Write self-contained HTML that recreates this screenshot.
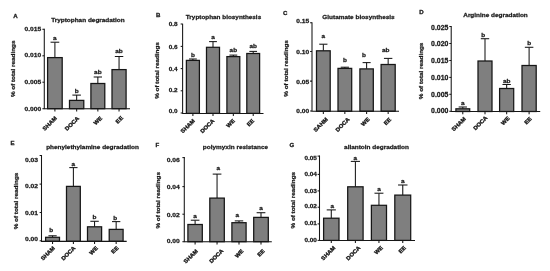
<!DOCTYPE html><html><head><meta charset="utf-8"><title>Figure</title><style>html,body{margin:0;padding:0;background:#fff}svg{display:block}text{font-family:"Liberation Sans",sans-serif;font-weight:bold;fill:#1a1a1a;stroke:#1a1a1a;stroke-width:0.25px;stroke-linejoin:round}</style></head><body>
<svg width="550" height="271" viewBox="0 0 550 271">
<defs><filter id="b" x="-5%" y="-5%" width="110%" height="110%"><feGaussianBlur stdDeviation="0.25"/></filter><filter id="t" x="-5%" y="-5%" width="110%" height="110%"><feGaussianBlur stdDeviation="0.4"/></filter></defs>
<rect width="550" height="271" fill="#fff"/>
<g filter="url(#b)">
<g>
<line x1="54.90" y1="57.5" x2="54.90" y2="42.2" stroke="#151515" stroke-width="1.05"/>
<line x1="50.55" y1="42.2" x2="59.24" y2="42.2" stroke="#151515" stroke-width="1.05"/>
<rect x="47.60" y="57.60" width="14.60" height="51.10" fill="#7f7f7f" stroke="#151515" stroke-width="1.25"/>
<line x1="76.65" y1="100.3" x2="76.65" y2="95.1" stroke="#151515" stroke-width="1.05"/>
<line x1="72.39" y1="95.1" x2="80.91" y2="95.1" stroke="#151515" stroke-width="1.05"/>
<rect x="69.50" y="100.40" width="14.30" height="8.30" fill="#7f7f7f" stroke="#151515" stroke-width="1.25"/>
<line x1="97.85" y1="83.4" x2="97.85" y2="77.0" stroke="#151515" stroke-width="1.05"/>
<line x1="93.70" y1="77.0" x2="102.00" y2="77.0" stroke="#151515" stroke-width="1.05"/>
<rect x="90.90" y="83.50" width="13.90" height="25.20" fill="#7f7f7f" stroke="#151515" stroke-width="1.25"/>
<line x1="119.05" y1="69.5" x2="119.05" y2="56.5" stroke="#151515" stroke-width="1.05"/>
<line x1="114.84" y1="56.5" x2="123.26" y2="56.5" stroke="#151515" stroke-width="1.05"/>
<rect x="112.00" y="69.60" width="14.10" height="39.10" fill="#7f7f7f" stroke="#151515" stroke-width="1.25"/>
<path d="M44.3 28.8V108.7H130.0" fill="none" stroke="#151515" stroke-width="1.05"/>
<line x1="42.4" y1="29.3" x2="44.3" y2="29.3" stroke="#151515" stroke-width="1.05"/>
<line x1="42.4" y1="55.8" x2="44.3" y2="55.8" stroke="#151515" stroke-width="1.05"/>
<line x1="42.4" y1="82.2" x2="44.3" y2="82.2" stroke="#151515" stroke-width="1.05"/>
<line x1="42.4" y1="108.7" x2="44.3" y2="108.7" stroke="#151515" stroke-width="1.05"/>
<line x1="54.90" y1="108.7" x2="54.90" y2="111.4" stroke="#151515" stroke-width="1.05"/>
<line x1="76.65" y1="108.7" x2="76.65" y2="111.4" stroke="#151515" stroke-width="1.05"/>
<line x1="97.85" y1="108.7" x2="97.85" y2="111.4" stroke="#151515" stroke-width="1.05"/>
<line x1="119.05" y1="108.7" x2="119.05" y2="111.4" stroke="#151515" stroke-width="1.05"/>
</g>
<g>
<line x1="192.90" y1="60.3" x2="192.90" y2="59.0" stroke="#151515" stroke-width="1.05"/>
<line x1="189.00" y1="59.0" x2="196.81" y2="59.0" stroke="#151515" stroke-width="1.05"/>
<rect x="186.40" y="60.40" width="13.00" height="53.00" fill="#7f7f7f" stroke="#151515" stroke-width="1.25"/>
<line x1="213.00" y1="47.2" x2="213.00" y2="41.6" stroke="#151515" stroke-width="1.05"/>
<line x1="209.09" y1="41.6" x2="216.91" y2="41.6" stroke="#151515" stroke-width="1.05"/>
<rect x="206.50" y="47.30" width="13.00" height="66.10" fill="#7f7f7f" stroke="#151515" stroke-width="1.25"/>
<line x1="233.35" y1="56.5" x2="233.35" y2="55.1" stroke="#151515" stroke-width="1.05"/>
<line x1="229.47" y1="55.1" x2="237.23" y2="55.1" stroke="#151515" stroke-width="1.05"/>
<rect x="226.90" y="56.60" width="12.90" height="56.80" fill="#7f7f7f" stroke="#151515" stroke-width="1.25"/>
<line x1="253.20" y1="53.4" x2="253.20" y2="51.4" stroke="#151515" stroke-width="1.05"/>
<line x1="249.35" y1="51.4" x2="257.05" y2="51.4" stroke="#151515" stroke-width="1.05"/>
<rect x="246.80" y="53.50" width="12.80" height="59.90" fill="#7f7f7f" stroke="#151515" stroke-width="1.25"/>
<path d="M182.6 23.7V113.39999999999999H263.5" fill="none" stroke="#151515" stroke-width="1.05"/>
<line x1="180.7" y1="24.0" x2="182.6" y2="24.0" stroke="#151515" stroke-width="1.05"/>
<line x1="180.7" y1="46.4" x2="182.6" y2="46.4" stroke="#151515" stroke-width="1.05"/>
<line x1="180.7" y1="68.6" x2="182.6" y2="68.6" stroke="#151515" stroke-width="1.05"/>
<line x1="180.7" y1="90.8" x2="182.6" y2="90.8" stroke="#151515" stroke-width="1.05"/>
<line x1="180.7" y1="113.0" x2="182.6" y2="113.0" stroke="#151515" stroke-width="1.05"/>
<line x1="192.90" y1="113.39999999999999" x2="192.90" y2="116.1" stroke="#151515" stroke-width="1.05"/>
<line x1="213.00" y1="113.39999999999999" x2="213.00" y2="116.1" stroke="#151515" stroke-width="1.05"/>
<line x1="233.35" y1="113.39999999999999" x2="233.35" y2="116.1" stroke="#151515" stroke-width="1.05"/>
<line x1="253.20" y1="113.39999999999999" x2="253.20" y2="116.1" stroke="#151515" stroke-width="1.05"/>
</g>
<g>
<line x1="323.35" y1="50.7" x2="323.35" y2="44.2" stroke="#151515" stroke-width="1.05"/>
<line x1="319.25" y1="44.2" x2="327.45" y2="44.2" stroke="#151515" stroke-width="1.05"/>
<rect x="316.50" y="50.80" width="13.70" height="60.45" fill="#7f7f7f" stroke="#151515" stroke-width="1.25"/>
<line x1="344.85" y1="68.3" x2="344.85" y2="67.2" stroke="#151515" stroke-width="1.05"/>
<line x1="340.75" y1="67.2" x2="348.95" y2="67.2" stroke="#151515" stroke-width="1.05"/>
<rect x="338.00" y="68.40" width="13.70" height="42.85" fill="#7f7f7f" stroke="#151515" stroke-width="1.25"/>
<line x1="366.60" y1="68.8" x2="366.60" y2="62.6" stroke="#151515" stroke-width="1.05"/>
<line x1="362.59" y1="62.6" x2="370.62" y2="62.6" stroke="#151515" stroke-width="1.05"/>
<rect x="359.90" y="68.90" width="13.40" height="42.35" fill="#7f7f7f" stroke="#151515" stroke-width="1.25"/>
<line x1="388.15" y1="64.4" x2="388.15" y2="58.4" stroke="#151515" stroke-width="1.05"/>
<line x1="383.94" y1="58.4" x2="392.36" y2="58.4" stroke="#151515" stroke-width="1.05"/>
<rect x="381.10" y="64.50" width="14.10" height="46.75" fill="#7f7f7f" stroke="#151515" stroke-width="1.25"/>
<path d="M312.0 22.3V111.25H399.0" fill="none" stroke="#151515" stroke-width="1.05"/>
<line x1="310.1" y1="22.7" x2="312.0" y2="22.7" stroke="#151515" stroke-width="1.05"/>
<line x1="310.1" y1="51.5" x2="312.0" y2="51.5" stroke="#151515" stroke-width="1.05"/>
<line x1="310.1" y1="81.1" x2="312.0" y2="81.1" stroke="#151515" stroke-width="1.05"/>
<line x1="310.1" y1="111.0" x2="312.0" y2="111.0" stroke="#151515" stroke-width="1.05"/>
<line x1="323.35" y1="111.25" x2="323.35" y2="113.95" stroke="#151515" stroke-width="1.05"/>
<line x1="344.85" y1="111.25" x2="344.85" y2="113.95" stroke="#151515" stroke-width="1.05"/>
<line x1="366.60" y1="111.25" x2="366.60" y2="113.95" stroke="#151515" stroke-width="1.05"/>
<line x1="388.15" y1="111.25" x2="388.15" y2="113.95" stroke="#151515" stroke-width="1.05"/>
</g>
<g>
<line x1="462.80" y1="108.7" x2="462.80" y2="107.0" stroke="#151515" stroke-width="1.05"/>
<line x1="458.68" y1="107.0" x2="466.93" y2="107.0" stroke="#151515" stroke-width="1.05"/>
<rect x="455.90" y="108.80" width="13.80" height="2.70" fill="#7f7f7f" stroke="#151515" stroke-width="1.25"/>
<line x1="485.00" y1="60.9" x2="485.00" y2="38.7" stroke="#151515" stroke-width="1.05"/>
<line x1="480.82" y1="38.7" x2="489.18" y2="38.7" stroke="#151515" stroke-width="1.05"/>
<rect x="478.00" y="61.00" width="14.00" height="50.50" fill="#7f7f7f" stroke="#151515" stroke-width="1.25"/>
<line x1="506.65" y1="88.4" x2="506.65" y2="84.5" stroke="#151515" stroke-width="1.05"/>
<line x1="502.44" y1="84.5" x2="510.86" y2="84.5" stroke="#151515" stroke-width="1.05"/>
<rect x="499.60" y="88.50" width="14.10" height="23.00" fill="#7f7f7f" stroke="#151515" stroke-width="1.25"/>
<line x1="529.10" y1="65.4" x2="529.10" y2="47.3" stroke="#151515" stroke-width="1.05"/>
<line x1="524.86" y1="47.3" x2="533.33" y2="47.3" stroke="#151515" stroke-width="1.05"/>
<rect x="522.00" y="65.50" width="14.20" height="46.00" fill="#7f7f7f" stroke="#151515" stroke-width="1.25"/>
<path d="M451.2 26.0V111.5H540.2" fill="none" stroke="#151515" stroke-width="1.05"/>
<line x1="449.3" y1="26.5" x2="451.2" y2="26.5" stroke="#151515" stroke-width="1.05"/>
<line x1="449.3" y1="43.5" x2="451.2" y2="43.5" stroke="#151515" stroke-width="1.05"/>
<line x1="449.3" y1="60.5" x2="451.2" y2="60.5" stroke="#151515" stroke-width="1.05"/>
<line x1="449.3" y1="77.4" x2="451.2" y2="77.4" stroke="#151515" stroke-width="1.05"/>
<line x1="449.3" y1="94.3" x2="451.2" y2="94.3" stroke="#151515" stroke-width="1.05"/>
<line x1="449.3" y1="111.3" x2="451.2" y2="111.3" stroke="#151515" stroke-width="1.05"/>
<line x1="462.80" y1="111.5" x2="462.80" y2="114.2" stroke="#151515" stroke-width="1.05"/>
<line x1="485.00" y1="111.5" x2="485.00" y2="114.2" stroke="#151515" stroke-width="1.05"/>
<line x1="506.65" y1="111.5" x2="506.65" y2="114.2" stroke="#151515" stroke-width="1.05"/>
<line x1="529.10" y1="111.5" x2="529.10" y2="114.2" stroke="#151515" stroke-width="1.05"/>
</g>
<g>
<line x1="52.55" y1="237.2" x2="52.55" y2="235.8" stroke="#151515" stroke-width="1.05"/>
<line x1="48.40" y1="235.8" x2="56.70" y2="235.8" stroke="#151515" stroke-width="1.05"/>
<rect x="45.60" y="237.30" width="13.90" height="4.05" fill="#7f7f7f" stroke="#151515" stroke-width="1.25"/>
<line x1="73.40" y1="186.3" x2="73.40" y2="167.6" stroke="#151515" stroke-width="1.05"/>
<line x1="69.28" y1="167.6" x2="77.53" y2="167.6" stroke="#151515" stroke-width="1.05"/>
<rect x="66.50" y="186.40" width="13.80" height="54.95" fill="#7f7f7f" stroke="#151515" stroke-width="1.25"/>
<line x1="94.55" y1="226.7" x2="94.55" y2="221.3" stroke="#151515" stroke-width="1.05"/>
<line x1="90.34" y1="221.3" x2="98.76" y2="221.3" stroke="#151515" stroke-width="1.05"/>
<rect x="87.50" y="226.80" width="14.10" height="14.55" fill="#7f7f7f" stroke="#151515" stroke-width="1.25"/>
<line x1="116.15" y1="229.3" x2="116.15" y2="221.6" stroke="#151515" stroke-width="1.05"/>
<line x1="112.00" y1="221.6" x2="120.30" y2="221.6" stroke="#151515" stroke-width="1.05"/>
<rect x="109.20" y="229.40" width="13.90" height="11.95" fill="#7f7f7f" stroke="#151515" stroke-width="1.25"/>
<path d="M41.5 155.0V241.35H126.7" fill="none" stroke="#151515" stroke-width="1.05"/>
<line x1="39.6" y1="155.5" x2="41.5" y2="155.5" stroke="#151515" stroke-width="1.05"/>
<line x1="39.6" y1="184.1" x2="41.5" y2="184.1" stroke="#151515" stroke-width="1.05"/>
<line x1="39.6" y1="212.5" x2="41.5" y2="212.5" stroke="#151515" stroke-width="1.05"/>
<line x1="39.6" y1="240.8" x2="41.5" y2="240.8" stroke="#151515" stroke-width="1.05"/>
<line x1="52.55" y1="241.35" x2="52.55" y2="244.04999999999998" stroke="#151515" stroke-width="1.05"/>
<line x1="73.40" y1="241.35" x2="73.40" y2="244.04999999999998" stroke="#151515" stroke-width="1.05"/>
<line x1="94.55" y1="241.35" x2="94.55" y2="244.04999999999998" stroke="#151515" stroke-width="1.05"/>
<line x1="116.15" y1="241.35" x2="116.15" y2="244.04999999999998" stroke="#151515" stroke-width="1.05"/>
</g>
<g>
<line x1="195.10" y1="224.4" x2="195.10" y2="220.2" stroke="#151515" stroke-width="1.05"/>
<line x1="190.81" y1="220.2" x2="199.39" y2="220.2" stroke="#151515" stroke-width="1.05"/>
<rect x="187.90" y="224.50" width="14.40" height="17.20" fill="#7f7f7f" stroke="#151515" stroke-width="1.25"/>
<line x1="217.05" y1="198.0" x2="217.05" y2="174.1" stroke="#151515" stroke-width="1.05"/>
<line x1="212.73" y1="174.1" x2="221.37" y2="174.1" stroke="#151515" stroke-width="1.05"/>
<rect x="209.80" y="198.10" width="14.50" height="43.60" fill="#7f7f7f" stroke="#151515" stroke-width="1.25"/>
<line x1="239.00" y1="222.6" x2="239.00" y2="220.9" stroke="#151515" stroke-width="1.05"/>
<line x1="234.77" y1="220.9" x2="243.23" y2="220.9" stroke="#151515" stroke-width="1.05"/>
<rect x="231.90" y="222.70" width="14.20" height="19.00" fill="#7f7f7f" stroke="#151515" stroke-width="1.25"/>
<line x1="261.00" y1="217.3" x2="261.00" y2="212.7" stroke="#151515" stroke-width="1.05"/>
<line x1="256.66" y1="212.7" x2="265.34" y2="212.7" stroke="#151515" stroke-width="1.05"/>
<rect x="253.70" y="217.40" width="14.60" height="24.30" fill="#7f7f7f" stroke="#151515" stroke-width="1.25"/>
<path d="M184.3 157.0V241.7H271.8" fill="none" stroke="#151515" stroke-width="1.05"/>
<line x1="182.4" y1="157.6" x2="184.3" y2="157.6" stroke="#151515" stroke-width="1.05"/>
<line x1="182.4" y1="186.6" x2="184.3" y2="186.6" stroke="#151515" stroke-width="1.05"/>
<line x1="182.4" y1="214.2" x2="184.3" y2="214.2" stroke="#151515" stroke-width="1.05"/>
<line x1="182.4" y1="241.7" x2="184.3" y2="241.7" stroke="#151515" stroke-width="1.05"/>
<line x1="195.10" y1="241.7" x2="195.10" y2="244.39999999999998" stroke="#151515" stroke-width="1.05"/>
<line x1="217.05" y1="241.7" x2="217.05" y2="244.39999999999998" stroke="#151515" stroke-width="1.05"/>
<line x1="239.00" y1="241.7" x2="239.00" y2="244.39999999999998" stroke="#151515" stroke-width="1.05"/>
<line x1="261.00" y1="241.7" x2="261.00" y2="244.39999999999998" stroke="#151515" stroke-width="1.05"/>
</g>
<g>
<line x1="331.30" y1="218.1" x2="331.30" y2="209.9" stroke="#151515" stroke-width="1.05"/>
<line x1="326.74" y1="209.9" x2="335.87" y2="209.9" stroke="#151515" stroke-width="1.05"/>
<rect x="323.60" y="218.20" width="15.40" height="22.20" fill="#7f7f7f" stroke="#151515" stroke-width="1.25"/>
<line x1="355.40" y1="186.7" x2="355.40" y2="161.4" stroke="#151515" stroke-width="1.05"/>
<line x1="350.83" y1="161.4" x2="359.96" y2="161.4" stroke="#151515" stroke-width="1.05"/>
<rect x="347.70" y="186.80" width="15.40" height="53.60" fill="#7f7f7f" stroke="#151515" stroke-width="1.25"/>
<line x1="378.95" y1="205.2" x2="378.95" y2="193.2" stroke="#151515" stroke-width="1.05"/>
<line x1="374.47" y1="193.2" x2="383.43" y2="193.2" stroke="#151515" stroke-width="1.05"/>
<rect x="371.40" y="205.30" width="15.10" height="35.10" fill="#7f7f7f" stroke="#151515" stroke-width="1.25"/>
<line x1="402.75" y1="195.0" x2="402.75" y2="185.0" stroke="#151515" stroke-width="1.05"/>
<line x1="398.05" y1="185.0" x2="407.45" y2="185.0" stroke="#151515" stroke-width="1.05"/>
<rect x="394.80" y="195.10" width="15.90" height="45.30" fill="#7f7f7f" stroke="#151515" stroke-width="1.25"/>
<path d="M319.5 155.6V240.4H415.0" fill="none" stroke="#151515" stroke-width="1.05"/>
<line x1="317.6" y1="156.1" x2="319.5" y2="156.1" stroke="#151515" stroke-width="1.05"/>
<line x1="317.6" y1="174.4" x2="319.5" y2="174.4" stroke="#151515" stroke-width="1.05"/>
<line x1="317.6" y1="190.9" x2="319.5" y2="190.9" stroke="#151515" stroke-width="1.05"/>
<line x1="317.6" y1="207.2" x2="319.5" y2="207.2" stroke="#151515" stroke-width="1.05"/>
<line x1="317.6" y1="223.9" x2="319.5" y2="223.9" stroke="#151515" stroke-width="1.05"/>
<line x1="317.6" y1="240.4" x2="319.5" y2="240.4" stroke="#151515" stroke-width="1.05"/>
<line x1="331.30" y1="240.4" x2="331.30" y2="243.1" stroke="#151515" stroke-width="1.05"/>
<line x1="355.40" y1="240.4" x2="355.40" y2="243.1" stroke="#151515" stroke-width="1.05"/>
<line x1="378.95" y1="240.4" x2="378.95" y2="243.1" stroke="#151515" stroke-width="1.05"/>
<line x1="402.75" y1="240.4" x2="402.75" y2="243.1" stroke="#151515" stroke-width="1.05"/>
</g>
</g>
<g filter="url(#t)">
<text x="15.5" y="17.70" font-size="6.1" style="stroke-width:0.32px" text-anchor="middle">A</text>
<text transform="translate(87.90,22.40) scale(1.09,1)" font-size="5.9" text-anchor="middle">Tryptophan degradation</text>
<text transform="translate(54.90,40.00) scale(1.09,1)" font-size="5.9" text-anchor="middle">a</text>
<text transform="translate(76.65,92.70) scale(1.09,1)" font-size="5.9" text-anchor="middle">b</text>
<text transform="translate(97.85,74.00) scale(1.09,1)" font-size="5.9" text-anchor="middle">ab</text>
<text transform="translate(119.05,53.30) scale(1.09,1)" font-size="5.9" text-anchor="middle">ab</text>
<text transform="translate(41.20,30.90) scale(1.09,1)" font-size="6.1" text-anchor="end">0.015</text>
<text transform="translate(41.20,57.20) scale(1.09,1)" font-size="6.1" text-anchor="end">0.010</text>
<text transform="translate(41.20,84.10) scale(1.09,1)" font-size="6.1" text-anchor="end">0.005</text>
<text transform="translate(41.20,110.60) scale(1.09,1)" font-size="6.1" text-anchor="end">0.000</text>
<text transform="translate(57.20,118.60) rotate(-45) scale(1.09,1)" font-size="5.45" style="stroke-width:0.36px" text-anchor="end">SHAM</text>
<text transform="translate(79.45,118.60) rotate(-45) scale(1.09,1)" font-size="5.45" style="stroke-width:0.36px" text-anchor="end">DOCA</text>
<text transform="translate(102.45,118.60) rotate(-45) scale(1.09,1)" font-size="5.45" style="stroke-width:0.36px" text-anchor="end">WE</text>
<text transform="translate(123.45,118.30) rotate(-45) scale(1.09,1)" font-size="5.45" style="stroke-width:0.36px" text-anchor="end">EE</text>
<text transform="translate(15.40,68.8) rotate(-90) scale(1.075,1)" font-size="5.9" text-anchor="middle">% of total readings</text>
<text x="158.3" y="17.20" font-size="6.1" style="stroke-width:0.32px" text-anchor="middle">B</text>
<text transform="translate(223.50,18.90) scale(1.09,1)" font-size="5.86" text-anchor="middle">Tryptophan biosynthesis</text>
<text transform="translate(192.90,57.00) scale(1.09,1)" font-size="5.9" text-anchor="middle">b</text>
<text transform="translate(213.00,38.50) scale(1.09,1)" font-size="5.9" text-anchor="middle">a</text>
<text transform="translate(233.35,51.70) scale(1.09,1)" font-size="5.9" text-anchor="middle">ab</text>
<text transform="translate(253.20,47.70) scale(1.09,1)" font-size="5.9" text-anchor="middle">ab</text>
<text transform="translate(177.60,25.70) scale(1.09,1)" font-size="5.85" text-anchor="end">0.8</text>
<text transform="translate(177.60,48.80) scale(1.09,1)" font-size="5.85" text-anchor="end">0.6</text>
<text transform="translate(177.60,70.50) scale(1.09,1)" font-size="5.85" text-anchor="end">0.4</text>
<text transform="translate(177.60,91.90) scale(1.09,1)" font-size="5.85" text-anchor="end">0.2</text>
<text transform="translate(177.60,113.40) scale(1.09,1)" font-size="5.85" text-anchor="end">0.0</text>
<text transform="translate(195.20,121.20) rotate(-45) scale(1.09,1)" font-size="5.45" style="stroke-width:0.36px" text-anchor="end">SHAM</text>
<text transform="translate(214.80,121.20) rotate(-45) scale(1.09,1)" font-size="5.45" style="stroke-width:0.36px" text-anchor="end">DOCA</text>
<text transform="translate(235.25,121.20) rotate(-45) scale(1.09,1)" font-size="5.45" style="stroke-width:0.36px" text-anchor="end">WE</text>
<text transform="translate(254.60,121.20) rotate(-45) scale(1.09,1)" font-size="5.45" style="stroke-width:0.36px" text-anchor="end">EE</text>
<text transform="translate(158.80,70.5) rotate(-90) scale(1.075,1)" font-size="5.9" text-anchor="middle">% of total readings</text>
<text x="285.3" y="14.90" font-size="6.1" style="stroke-width:0.32px" text-anchor="middle">C</text>
<text transform="translate(358.50,19.10) scale(1.09,1)" font-size="5.9" text-anchor="middle">Glutamate biosynthesis</text>
<text transform="translate(323.35,38.00) scale(1.09,1)" font-size="5.9" text-anchor="middle">a</text>
<text transform="translate(344.85,62.00) scale(1.09,1)" font-size="5.9" text-anchor="middle">b</text>
<text transform="translate(363.90,57.00) scale(1.09,1)" font-size="5.9" text-anchor="middle">b</text>
<text transform="translate(385.75,51.50) scale(1.09,1)" font-size="5.9" text-anchor="middle">ab</text>
<text transform="translate(309.20,22.80) scale(1.09,1)" font-size="6.1" text-anchor="end">0.15</text>
<text transform="translate(309.20,53.90) scale(1.09,1)" font-size="6.1" text-anchor="end">0.10</text>
<text transform="translate(309.20,83.50) scale(1.09,1)" font-size="6.1" text-anchor="end">0.05</text>
<text transform="translate(309.20,112.90) scale(1.09,1)" font-size="6.1" text-anchor="end">0.00</text>
<text transform="translate(328.15,119.80) rotate(-45) scale(1.09,1)" font-size="5.45" style="stroke-width:0.36px" text-anchor="end">SAHM</text>
<text transform="translate(350.05,119.80) rotate(-45) scale(1.09,1)" font-size="5.45" style="stroke-width:0.36px" text-anchor="end">DOCA</text>
<text transform="translate(370.00,119.80) rotate(-45) scale(1.09,1)" font-size="5.45" style="stroke-width:0.36px" text-anchor="end">WE</text>
<text transform="translate(391.55,120.00) rotate(-45) scale(1.09,1)" font-size="5.45" style="stroke-width:0.36px" text-anchor="end">EE</text>
<text transform="translate(287.90,68.4) rotate(-90) scale(1.075,1)" font-size="5.9" text-anchor="middle">% of total readings</text>
<text x="421.5" y="13.90" font-size="6.1" style="stroke-width:0.32px" text-anchor="middle">D</text>
<text transform="translate(495.50,17.00) scale(1.09,1)" font-size="5.9" text-anchor="middle">Arginine degradation</text>
<text transform="translate(462.80,105.00) scale(1.09,1)" font-size="5.9" text-anchor="middle">a</text>
<text transform="translate(483.20,36.70) scale(1.09,1)" font-size="5.9" text-anchor="middle">b</text>
<text transform="translate(506.65,82.50) scale(1.09,1)" font-size="5.9" text-anchor="middle">ab</text>
<text transform="translate(529.10,45.30) scale(1.09,1)" font-size="5.9" text-anchor="middle">b</text>
<text transform="translate(448.40,29.90) scale(1.09,1)" font-size="6.35" text-anchor="end">0.025</text>
<text transform="translate(448.40,46.00) scale(1.09,1)" font-size="6.35" text-anchor="end">0.020</text>
<text transform="translate(448.40,63.00) scale(1.09,1)" font-size="6.35" text-anchor="end">0.015</text>
<text transform="translate(448.40,79.90) scale(1.09,1)" font-size="6.35" text-anchor="end">0.010</text>
<text transform="translate(448.40,96.80) scale(1.09,1)" font-size="6.35" text-anchor="end">0.005</text>
<text transform="translate(448.40,112.60) scale(1.09,1)" font-size="6.35" text-anchor="end">0.000</text>
<text transform="translate(466.20,119.20) rotate(-45) scale(1.09,1)" font-size="5.45" style="stroke-width:0.36px" text-anchor="end">SHAM</text>
<text transform="translate(487.90,118.20) rotate(-45) scale(1.09,1)" font-size="5.45" style="stroke-width:0.36px" text-anchor="end">DOCA</text>
<text transform="translate(510.05,118.70) rotate(-45) scale(1.09,1)" font-size="5.45" style="stroke-width:0.36px" text-anchor="end">WE</text>
<text transform="translate(532.00,119.20) rotate(-45) scale(1.09,1)" font-size="5.45" style="stroke-width:0.36px" text-anchor="end">EE</text>
<text transform="translate(422.70,70.9) rotate(-90) scale(1.075,1)" font-size="5.9" text-anchor="middle">% of total readings</text>
<text x="12.5" y="145.30" font-size="6.1" style="stroke-width:0.32px" text-anchor="middle">E</text>
<text transform="translate(92.50,149.00) scale(1.09,1)" font-size="5.9" text-anchor="middle">phenylethylamine degradation</text>
<text transform="translate(51.25,231.80) scale(1.09,1)" font-size="5.9" text-anchor="middle">b</text>
<text transform="translate(73.40,165.80) scale(1.09,1)" font-size="5.9" text-anchor="middle">a</text>
<text transform="translate(94.55,218.50) scale(1.09,1)" font-size="5.9" text-anchor="middle">b</text>
<text transform="translate(115.25,220.40) scale(1.09,1)" font-size="5.9" text-anchor="middle">b</text>
<text transform="translate(38.00,161.60) scale(1.09,1)" font-size="6.2" text-anchor="end">0.03</text>
<text transform="translate(38.00,187.90) scale(1.09,1)" font-size="6.2" text-anchor="end">0.02</text>
<text transform="translate(38.00,215.00) scale(1.09,1)" font-size="6.2" text-anchor="end">0.01</text>
<text transform="translate(38.00,240.50) scale(1.09,1)" font-size="6.2" text-anchor="end">0.00</text>
<text transform="translate(55.35,248.40) rotate(-45) scale(1.09,1)" font-size="5.45" style="stroke-width:0.36px" text-anchor="end">SHAM</text>
<text transform="translate(75.80,248.40) rotate(-45) scale(1.09,1)" font-size="5.45" style="stroke-width:0.36px" text-anchor="end">DOCA</text>
<text transform="translate(98.25,248.40) rotate(-45) scale(1.09,1)" font-size="5.45" style="stroke-width:0.36px" text-anchor="end">WE</text>
<text transform="translate(118.95,248.40) rotate(-45) scale(1.09,1)" font-size="5.45" style="stroke-width:0.36px" text-anchor="end">EE</text>
<text transform="translate(17.60,201.0) rotate(-90) scale(1.075,1)" font-size="5.9" text-anchor="middle">% of total readings</text>
<text x="157.3" y="146.80" font-size="6.1" style="stroke-width:0.32px" text-anchor="middle">F</text>
<text transform="translate(235.50,149.00) scale(1.09,1)" font-size="5.9" text-anchor="middle">polymyxin resistance</text>
<text transform="translate(195.10,218.00) scale(1.09,1)" font-size="5.9" text-anchor="middle">a</text>
<text transform="translate(218.35,170.20) scale(1.09,1)" font-size="5.9" text-anchor="middle">a</text>
<text transform="translate(237.40,217.20) scale(1.09,1)" font-size="5.9" text-anchor="middle">a</text>
<text transform="translate(261.00,210.20) scale(1.09,1)" font-size="5.9" text-anchor="middle">a</text>
<text transform="translate(179.80,161.50) scale(1.09,1)" font-size="6.2" text-anchor="end">0.06</text>
<text transform="translate(179.80,188.50) scale(1.09,1)" font-size="6.2" text-anchor="end">0.04</text>
<text transform="translate(179.80,216.90) scale(1.09,1)" font-size="6.2" text-anchor="end">0.02</text>
<text transform="translate(179.80,243.30) scale(1.09,1)" font-size="6.2" text-anchor="end">0.00</text>
<text transform="translate(198.20,251.50) rotate(-45) scale(1.09,1)" font-size="5.45" style="stroke-width:0.36px" text-anchor="end">SHAM</text>
<text transform="translate(223.75,251.20) rotate(-45) scale(1.09,1)" font-size="5.45" style="stroke-width:0.36px" text-anchor="end">DOCA</text>
<text transform="translate(243.90,251.50) rotate(-45) scale(1.09,1)" font-size="5.45" style="stroke-width:0.36px" text-anchor="end">WE</text>
<text transform="translate(265.00,251.50) rotate(-45) scale(1.09,1)" font-size="5.45" style="stroke-width:0.36px" text-anchor="end">EE</text>
<text transform="translate(160.20,200.3) rotate(-90) scale(1.075,1)" font-size="5.9" text-anchor="middle">% of total readings</text>
<text x="291.8" y="146.60" font-size="6.1" style="stroke-width:0.32px" text-anchor="middle">G</text>
<text transform="translate(376.50,149.00) scale(1.09,1)" font-size="5.9" text-anchor="middle">allantoin degradation</text>
<text transform="translate(332.20,207.90) scale(1.09,1)" font-size="5.9" text-anchor="middle">a</text>
<text transform="translate(355.40,159.80) scale(1.09,1)" font-size="5.9" text-anchor="middle">a</text>
<text transform="translate(378.95,190.60) scale(1.09,1)" font-size="5.9" text-anchor="middle">a</text>
<text transform="translate(402.75,183.20) scale(1.09,1)" font-size="5.9" text-anchor="middle">a</text>
<text transform="translate(316.90,159.80) scale(1.09,1)" font-size="5.9" text-anchor="end">0.05</text>
<text transform="translate(316.90,176.30) scale(1.09,1)" font-size="5.9" text-anchor="end">0.04</text>
<text transform="translate(316.90,192.80) scale(1.09,1)" font-size="5.9" text-anchor="end">0.03</text>
<text transform="translate(316.90,208.30) scale(1.09,1)" font-size="5.9" text-anchor="end">0.02</text>
<text transform="translate(316.90,225.20) scale(1.09,1)" font-size="5.9" text-anchor="end">0.01</text>
<text transform="translate(316.90,241.70) scale(1.09,1)" font-size="5.9" text-anchor="end">0.00</text>
<text transform="translate(335.70,248.30) rotate(-45) scale(1.09,1)" font-size="5.45" style="stroke-width:0.36px" text-anchor="end">SHAM</text>
<text transform="translate(360.70,248.30) rotate(-45) scale(1.09,1)" font-size="5.45" style="stroke-width:0.36px" text-anchor="end">DOCA</text>
<text transform="translate(383.35,248.10) rotate(-45) scale(1.09,1)" font-size="5.45" style="stroke-width:0.36px" text-anchor="end">WE</text>
<text transform="translate(406.25,248.10) rotate(-45) scale(1.09,1)" font-size="5.45" style="stroke-width:0.36px" text-anchor="end">EE</text>
<text transform="translate(294.70,200.2) rotate(-90) scale(1.075,1)" font-size="5.9" text-anchor="middle">% of total readings</text>
</g></svg></body></html>
